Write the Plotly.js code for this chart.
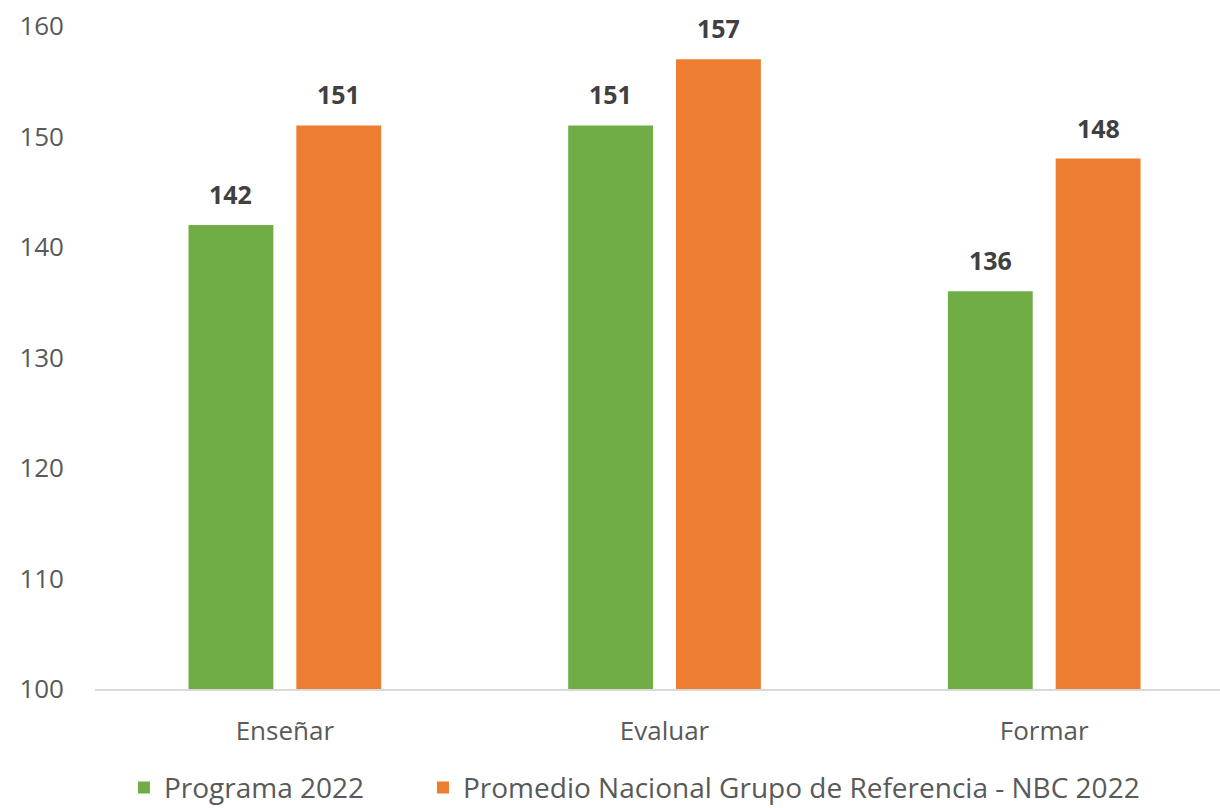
<!DOCTYPE html>
<html>
<head>
<meta charset="utf-8">
<script src="https://cdn.plot.ly/plotly-3.0.1.min.js"></script>
<style>html,body{margin:0;padding:0;background:#fff;}#chart{width:1220px;height:808px;}</style>
</head>
<body>
<div id="chart"></div>
<script>
const categories = ["Enseñar", "Evaluar", "Formar"];
const programa = [142, 151, 136];
const promedio = [151, 157, 148];
const seriesNames = ["Programa 2022", "Promedio Nacional Grupo de Referencia - NBC 2022"];
const yTicks = [100, 110, 120, 130, 140, 150, 160];

const labelFont = {family: "Open Sans, sans-serif", size: 25, color: "#404040", weight: "bold"};

const traces = [
  {type: "bar", name: seriesNames[0], x: categories, y: programa,
   marker: {color: "#70ad47"}, hoverinfo: "x+y", legend: "legend"},
  {type: "bar", name: seriesNames[1], x: categories, y: promedio,
   marker: {color: "#ed7d31"}, hoverinfo: "x+y", legend: "legend2"}
];

// value labels above bars, anchored to data coordinates
const annotations = [];
[[programa, -54], [promedio, 54]].forEach(([vals, dx]) => {
  vals.forEach((v, i) => {
    annotations.push({x: categories[i], y: v, xref: "x", yref: "y",
      text: "<b>" + v + "</b>", showarrow: false, yanchor: "bottom",
      xshift: dx, yshift: 12, font: labelFont});
  });
});

const legendBase = {orientation: "h", xanchor: "left", xref: "container",
  y: 0.025, yref: "container", yanchor: "middle",
  font: {size: 28, color: "#595959"}, itemwidth: 30, bgcolor: "rgba(0,0,0,0)"};

const layout = {
  width: 1220, height: 808,
  margin: {l: 95, r: 0, t: 26, b: 119},
  paper_bgcolor: "#ffffff", plot_bgcolor: "rgba(0,0,0,0)",
  barmode: "group", bargap: 0.432, bargroupgap: 0.213,
  font: {family: "Open Sans, sans-serif", color: "#595959"},
  xaxis: {
    range: [-0.5, 2.463], showgrid: false, zeroline: false,
    showline: true, linecolor: "#d9d9d9", linewidth: 2,
    ticks: "", tickfont: {size: 26, color: "#595959"}, ticklabelstandoff: 18
  },
  yaxis: {
    range: [100, 160], tickvals: yTicks, showgrid: false, zeroline: false,
    showline: false, ticks: "", tickfont: {size: 26, color: "#595959"},
    ticklabelstandoff: 30
  },
  annotations: annotations,
  showlegend: true,
  legend: Object.assign({}, legendBase, {x: 0.1016}),
  legend2: Object.assign({}, legendBase, {x: 0.3467})
};

Plotly.newPlot("chart", traces, layout, {displayModeBar: false, staticPlot: true});
</script>
</body>
</html>
